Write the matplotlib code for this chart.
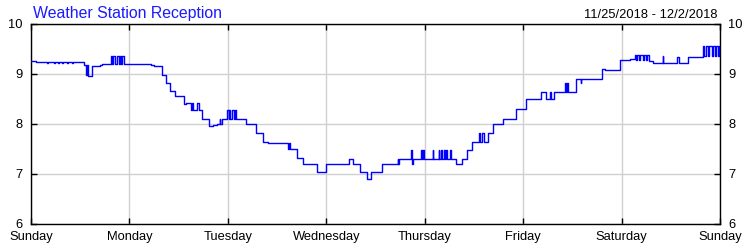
import matplotlib
matplotlib.use("Agg")
import matplotlib.pyplot as plt

plt.rcParams['font.family'] = ['Liberation Sans', 'DejaVu Sans']

title = "Weather Station Reception"
date_range = "11/25/2018 - 12/2/2018"
day_labels = ["Sunday", "Monday", "Tuesday", "Wednesday", "Thursday", "Friday", "Saturday", "Sunday"]
y_ticks = [6, 7, 8, 9, 10]

# step change times (hours since Sunday 00:00) and reception values
hours = [0, 1.2, 3.9, 4.2, 5.6, 5.9, 6.6, 6.9, 7.6, 7.9, 8.8, 9.1, 10.0, 10.3,
         12.9, 13.4, 13.7, 13.9, 14.8, 16.8, 17.3,
         19.5, 19.8, 20.1, 20.4, 20.9, 21.5, 21.6, 22.0, 22.2, 22.6,
         29.3, 30.0, 32.0, 33.0, 33.9, 35.2, 37.4, 37.7,
         39.0, 39.2, 39.4, 40.4, 40.9, 41.7, 43.5, 44.4, 45.3, 46.0, 46.2, 46.6,
         47.8, 48.2, 48.4, 48.6, 48.9, 49.6, 49.8, 50.0, 52.4, 53.2, 54.9, 56.6, 57.9,
         62.7, 62.9, 63.1, 64.9, 66.4, 67.9, 69.8, 72.0, 77.6, 78.6, 80.1, 82.0, 82.9,
         85.7, 89.4, 89.6, 89.8, 92.7, 92.9, 93.1,
         95.0, 95.3, 95.5, 95.9, 97.9, 98.1,
         99.4, 99.6, 99.9, 100.3, 100.6, 100.9, 101.2, 101.5, 102.2, 102.4,
         103.7, 105.1, 106.3, 107.6, 109.2, 109.5, 110.0, 110.4, 111.4,
         112.6, 115.2, 118.3, 120.8, 124.3, 125.5, 126.5, 126.7, 127.6,
         130.1, 130.4, 130.7, 131.0, 133.0, 134.0, 134.2, 139.3, 139.9,
         143.7, 144.8, 145.4, 146.0,
         147.2, 147.5, 147.8, 148.3, 148.6, 149.2, 149.5, 150.0, 150.3, 150.6,
         150.8, 151.6, 154.0, 154.2, 157.4, 158.0, 160.2,
         163.8, 164.2, 164.5, 165.0, 165.3, 166.0, 166.3, 166.8, 167.0, 167.5, 167.7, 168.0]
values = [9.27, 9.25, 9.23, 9.25, 9.23, 9.25, 9.23, 9.25, 9.23, 9.25, 9.23, 9.25, 9.23, 9.25,
          9.19, 8.99, 9.19, 8.96, 9.17, 9.19, 9.20,
          9.36, 9.20, 9.36, 9.20, 9.36, 9.20, 9.36, 9.20, 9.36, 9.20,
          9.18, 9.16, 8.97, 8.83, 8.67, 8.56, 8.40, 8.43,
          8.28, 8.43, 8.28, 8.43, 8.28, 8.11, 7.96, 7.98, 8.00, 8.11, 8.00, 8.11,
          8.29, 8.11, 8.29, 8.11, 8.29, 8.11, 8.29, 8.11, 8.01, 8.00, 7.83, 7.65, 7.63,
          7.51, 7.63, 7.51, 7.32, 7.21, 7.20, 7.04, 7.20, 7.31, 7.20, 7.04, 6.91, 7.04,
          7.20, 7.31, 7.20, 7.31, 7.49, 7.20, 7.31,
          7.48, 7.31, 7.48, 7.31, 7.48, 7.31,
          7.48, 7.31, 7.48, 7.31, 7.48, 7.31, 7.48, 7.31, 7.48, 7.31,
          7.20, 7.31, 7.49, 7.65, 7.83, 7.65, 7.83, 7.65, 7.83,
          8.00, 8.11, 8.31, 8.51, 8.63, 8.51, 8.63, 8.51, 8.63,
          8.83, 8.63, 8.83, 8.63, 8.91, 8.83, 8.91, 9.11, 9.09,
          9.28, 9.29, 9.28, 9.30,
          9.39, 9.29, 9.39, 9.29, 9.39, 9.29, 9.39, 9.29, 9.39, 9.29,
          9.27, 9.23, 9.37, 9.21, 9.35, 9.21, 9.35,
          9.56, 9.36, 9.56, 9.36, 9.56, 9.36, 9.56, 9.36, 9.56, 9.36, 9.56, 9.56]

fig = plt.figure(figsize=(7.5, 2.5), dpi=100)
ax = fig.add_axes([31/750, 1 - 224/250, 689/750, 200/250])

ax.step(hours, values, where='post', color='#0000FF', lw=1.0, zorder=3)

ax.set_xlim(0, 168)
ax.set_ylim(6, 10)
ax.set_xticks([24 * i for i in range(8)])
ax.set_xticklabels(day_labels)
ax.set_yticks(y_ticks)
ax.set_yticklabels([str(v) for v in y_ticks])
ax.grid(True, color='#d0d0d0', lw=1.0, zorder=0)
for s in ax.spines.values():
    s.set_color('black')
    s.set_linewidth(1.0)
ax.tick_params(axis='both', direction='in', length=4, width=1, colors='black',
               labelsize=9.3, top=True, right=True, labelright=True)
ax.tick_params(axis='y', pad=6)
ax.tick_params(axis='x', pad=5)

fig.text(33/750, 1 - 18/250, title, color='#1a1aff', fontsize=11.4, ha='left', va='baseline')
fig.text(717/750, 1 - 18/250, date_range, color='black', fontsize=9.3, ha='right', va='baseline')

fig.savefig('out.png', dpi=100)
